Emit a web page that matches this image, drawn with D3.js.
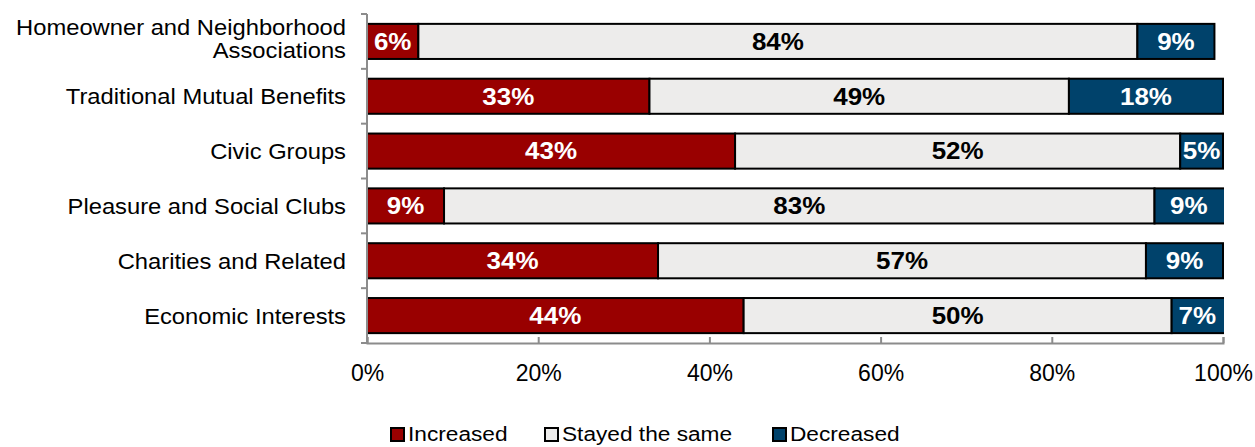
<!DOCTYPE html>
<html>
<head>
<meta charset="utf-8">
<script src="https://cdn.jsdelivr.net/npm/d3@7"></script>
<style>
  html, body { margin: 0; padding: 0; background: #fff; }
  svg { display: block; font-family: "Liberation Sans", Arial, sans-serif; }
</style>
</head>
<body>
<svg id="chart" width="1255" height="447"></svg>
<script>
// Survey categories (top to bottom)
const categories = [
  "Homeowner and Neighborhood Associations",
  "Traditional Mutual Benefits",
  "Civic Groups",
  "Pleasure and Social Clubs",
  "Charities and Related",
  "Economic Interests"
];
// Share of respondents per category (%)
const increased = [6, 33, 43, 9, 34, 44];
const stayedSame = [84, 49, 52, 83, 57, 50];
const decreased = [9, 18, 5, 9, 9, 7];

const seriesNames = ["Increased", "Stayed the same", "Decreased"];
const seriesColors = ["#990000", "#EDECEB", "#00426B"];
const seriesTextColors = ["#ffffff", "#000000", "#ffffff"];
const xTicks = [0, 20, 40, 60, 80, 100];

const svg = d3.select("#chart");
const margin = { left: 367, right: 32, top: 14, bottom: 104 };
const width = 1255, height = 447;

const x = d3.scaleLinear().domain([0, 100]).range([margin.left, width - margin.right]);
const y = d3.scaleBand().domain(categories).range([margin.top, height - margin.bottom])
  .paddingInner(0.36).paddingOuter(0.18);

const rows = categories.map((c, i) => ({ cat: c, values: [increased[i], stayedSame[i], decreased[i]] }));
const stack = d3.stack().keys([0, 1, 2]).value((d, k) => d.values[k]);
const layers = stack(rows);

// Plot area clip (rounded shares can add up to slightly more than 100%)
const xMax = x(100);
svg.append("defs").append("clipPath").attr("id", "plot-clip")
  .append("rect").attr("x", 0).attr("y", 0).attr("width", xMax + 1).attr("height", height);

// Bars
const g = svg.append("g");
const barG = g.append("g").attr("clip-path", "url(#plot-clip)");
const labelG = g.append("g");
layers.forEach((layer, k) => {
  barG.append("g").selectAll("rect").data(layer).join("rect")
    .attr("x", d => x(d[0]))
    .attr("y", d => y(d.data.cat))
    .attr("width", d => x(d[1]) - x(d[0]))
    .attr("height", y.bandwidth())
    .attr("fill", seriesColors[k])
    .attr("stroke", "#000")
    .attr("stroke-width", 2);
  labelG.append("g").selectAll("g").data(layer).join("g")
    .attr("transform", d => {
      const cx = (x(d[0]) + Math.min(x(d[1]), xMax)) / 2;
      const cy = y(d.data.cat) + y.bandwidth() / 2;
      return `translate(${cx},${cy}) scale(1.13,1)`;
    })
    .append("text")
    .attr("dy", "0.36em")
    .attr("text-anchor", "middle")
    .attr("fill", seriesTextColors[k])
    .attr("font-weight", "bold")
    .attr("font-size", "23px")
    .text(d => (d[1] - d[0]) + "%");
});

// Y axis line with boundary ticks
const axisColor = "#8c8c8c";
const yTop = margin.top, yBot = height - margin.bottom;
svg.append("line").attr("x1", margin.left).attr("x2", margin.left)
  .attr("y1", yTop).attr("y2", yBot).attr("stroke", axisColor).attr("stroke-width", 2);
const step = (yBot - yTop) / categories.length;
d3.range(categories.length + 1).forEach(i => {
  svg.append("line").attr("x1", margin.left - 6).attr("x2", margin.left)
    .attr("y1", yTop + i * step).attr("y2", yTop + i * step)
    .attr("stroke", axisColor).attr("stroke-width", 2);
});

// Category labels
const labelX = margin.left - 21;
categories.forEach(c => {
  const cy = y(c) + y.bandwidth() / 2;
  const lines = c === "Homeowner and Neighborhood Associations"
    ? [["Homeowner and Neighborhood", -6.5], ["Associations", 16.5]]
    : [[c, 8]];
  lines.forEach(([txt, off]) => {
    svg.append("g").attr("transform", `translate(${labelX},${cy + off}) scale(1.08,1)`)
      .append("text")
      .attr("text-anchor", "end")
      .attr("font-size", "22px")
      .attr("fill", "#000")
      .text(txt);
  });
});

// X axis
const xAxis = d3.axisBottom(x).tickValues(xTicks).tickFormat(d => d + "%")
  .tickSizeInner(-6).tickSizeOuter(-6).tickPadding(22);
const xg = svg.append("g").attr("transform", `translate(0,${yBot})`).call(xAxis);
xg.select(".domain").attr("stroke", axisColor).attr("stroke-width", 2);
xg.selectAll(".tick line").attr("stroke", axisColor).attr("stroke-width", 2);
xg.selectAll(".tick text").attr("font-size", "23px").attr("fill", "#000")
  .attr("font-family", "Liberation Sans, Arial, sans-serif");

// Legend
const legendItems = [
  { name: seriesNames[0], color: seriesColors[0], x: 391 },
  { name: seriesNames[1], color: seriesColors[1], x: 545 },
  { name: seriesNames[2], color: seriesColors[2], x: 773 }
];
const lBase = 441;
legendItems.forEach(it => {
  svg.append("rect").attr("x", it.x).attr("y", lBase - 13).attr("width", 13).attr("height", 13)
    .attr("fill", it.color).attr("stroke", "#000").attr("stroke-width", 2);
  svg.append("g").attr("transform", `translate(${it.x + 17},${lBase}) scale(1.08,1)`)
    .append("text")
    .attr("font-size", "21px").attr("fill", "#000").text(it.name);
});
</script>
</body>
</html>
